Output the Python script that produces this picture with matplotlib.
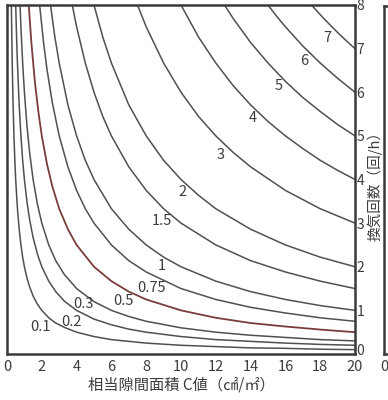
import numpy as np
import matplotlib
matplotlib.use("Agg")
from matplotlib import pyplot as plt
from matplotlib.transforms import ScaledTranslation

plt.rcParams['font.family'] = ['Noto Sans CJK JP', 'DejaVu Sans']

# curve labels (値) and points: C値 -> 換気回数
labels = ['0.1', '0.2', '0.3', '0.5', '0.75', '1', '1.5', '2', '3', '4', '5', '6', '7']

c_01 = [0.25, 0.3, 0.35, 0.4, 0.45, 0.5, 0.6, 0.7, 0.8, 0.9, 1.0, 1.15, 1.3, 1.5, 1.75, 2, 2.4, 2.8, 3.3, 4, 5, 6, 7, 8, 10, 12, 14, 16, 18, 20]
n_01 = [8.0, 6.67, 5.71, 5.0, 4.44, 4.0, 3.33, 2.86, 2.5, 2.22, 2.0, 1.74, 1.54, 1.33, 1.14, 1.0, 0.83, 0.71, 0.61, 0.5, 0.4, 0.33, 0.29, 0.25, 0.2, 0.17, 0.14, 0.13, 0.11, 0.1]
c_02 = [0.5, 0.55, 0.6, 0.7, 0.8, 0.9, 1.0, 1.15, 1.3, 1.5, 1.75, 2, 2.4, 2.8, 3.3, 4, 5, 6, 7, 8, 10, 12, 14, 16, 18, 20]
n_02 = [8.0, 7.27, 6.67, 5.71, 5.0, 4.44, 4.0, 3.48, 3.08, 2.67, 2.29, 2.0, 1.67, 1.43, 1.21, 1.0, 0.8, 0.67, 0.57, 0.5, 0.4, 0.33, 0.29, 0.25, 0.22, 0.2]
c_03 = [0.75, 0.8, 0.9, 1.0, 1.15, 1.3, 1.5, 1.75, 2, 2.4, 2.8, 3.3, 4, 5, 6, 7, 8, 10, 12, 14, 16, 18, 20]
n_03 = [8.0, 7.5, 6.67, 6.0, 5.22, 4.62, 4.0, 3.43, 3.0, 2.5, 2.14, 1.82, 1.5, 1.2, 1.0, 0.86, 0.75, 0.6, 0.5, 0.43, 0.38, 0.33, 0.3]
c_05 = [1.25, 1.4, 1.6, 1.8, 2, 2.3, 2.6, 3, 3.5, 4, 5, 6, 7, 8, 10, 12, 14, 16, 18, 20]
n_05 = [8.0, 7.14, 6.25, 5.56, 5.0, 4.35, 3.85, 3.33, 2.86, 2.5, 2.0, 1.67, 1.43, 1.25, 1.0, 0.83, 0.71, 0.63, 0.56, 0.5]
c_075 = [1.875, 2.1, 2.3, 2.6, 3, 3.5, 4, 4.5, 5, 6, 7, 8, 10, 12, 14, 16, 18, 20]
n_075 = [8.0, 7.14, 6.52, 5.77, 5.0, 4.29, 3.75, 3.33, 3.0, 2.5, 2.14, 1.88, 1.5, 1.25, 1.07, 0.94, 0.83, 0.75]
c_1 = [2.5, 2.75, 3, 3.5, 4, 4.5, 5, 6, 7, 8, 9, 10, 12, 14, 16, 18, 20]
n_1 = [8.0, 7.27, 6.67, 5.71, 5.0, 4.44, 4.0, 3.33, 2.86, 2.5, 2.22, 2.0, 1.67, 1.43, 1.25, 1.11, 1.0]
c_15 = [3.75, 4, 4.5, 5, 5.5, 6, 7, 8, 9, 10, 12, 14, 16, 18, 20]
n_15 = [8.0, 7.5, 6.67, 6.0, 5.45, 5.0, 4.29, 3.75, 3.33, 3.0, 2.5, 2.14, 1.88, 1.67, 1.5]
c_2 = [5, 5.5, 6, 7, 8, 9, 10, 11, 12, 14, 16, 18, 20]
n_2 = [8.0, 7.27, 6.67, 5.71, 5.0, 4.44, 4.0, 3.64, 3.33, 2.86, 2.5, 2.22, 2.0]
c_3 = [7.5, 8, 9, 10, 11, 12, 13, 14, 16, 18, 20]
n_3 = [8.0, 7.5, 6.67, 6.0, 5.45, 5.0, 4.62, 4.29, 3.75, 3.33, 3.0]
c_4 = [10, 11, 12, 13, 14, 15, 16, 17, 18, 19, 20]
n_4 = [8.0, 7.27, 6.67, 6.15, 5.71, 5.33, 5.0, 4.71, 4.44, 4.21, 4.0]
c_5 = [12.5, 13, 14, 15, 16, 17, 18, 19, 20]
n_5 = [8.0, 7.69, 7.14, 6.67, 6.25, 5.88, 5.56, 5.26, 5.0]
c_6 = [15, 15.5, 16, 17, 18, 19, 20]
n_6 = [8.0, 7.74, 7.5, 7.06, 6.67, 6.32, 6.0]
c_7 = [17.5, 18, 18.5, 19, 19.5, 20]
n_7 = [8.0, 7.78, 7.57, 7.37, 7.18, 7.0]

curves = [(c_01, n_01), (c_02, n_02), (c_03, n_03), (c_05, n_05), (c_075, n_075),
          (c_1, n_1), (c_15, n_15), (c_2, n_2), (c_3, n_3), (c_4, n_4),
          (c_5, n_5), (c_6, n_6), (c_7, n_7)]

# where each curve label sits (C, n)
label_c = [1.95, 3.7, 4.4, 6.7, 8.3, 8.9, 8.9, 10.1, 12.3, 14.1, 15.6, 17.1, 18.4]
label_n = [0.62, 0.73, 1.15, 1.22, 1.51, 2.02, 3.05, 3.72, 4.56, 5.4, 6.15, 6.72, 7.25]

xticks = list(range(0, 21, 2))
yticks = list(range(0, 9))

fig = plt.figure(figsize=(3.88, 4.0), dpi=100)
ax = fig.add_axes([7/388., 1 - 354/400., 348/388., 349/400.])

for (c, n), lab in zip(curves, labels):
    if lab == '0.5':
        ax.plot(c, n, color='#7a3d3d', lw=1.3)
    else:
        ax.plot(c, n, color='#505050', lw=1.1)

for lab, x, y in zip(labels, label_c, label_n):
    ax.text(x, y, lab, fontsize=10.5, color='#3c3c3c', ha='center', va='center')

ax.set_xlim(0, 20)
ax.set_ylim(0, 8)
ax.set_xticks(xticks)
ax.set_yticks(yticks)
ax.yaxis.tick_right()
ax.tick_params(length=0, labelsize=10.5, colors='#3c3c3c')
ax.tick_params(axis='y', pad=1, labelsize=10)
ax.tick_params(axis='x', pad=4)
for s in ax.spines.values():
    s.set_linewidth(1.8)
    s.set_color('#3a3a3a')

# lift the right-hand "0" a little off the "20" below it
zero_lab = ax.get_yticklabels()[0]
zero_lab.set_transform(zero_lab.get_transform() + ScaledTranslation(0, 3/72., fig.dpi_scale_trans))

ax.set_xlabel('相当隙間面積 C値（㎠/㎡）', fontsize=11, color='#3c3c3c', labelpad=2)
ax.text(1.056, 0.49, '換気回数（回/h）', transform=ax.transAxes, rotation=90,
        ha='center', va='center', fontsize=10.5, color='#3c3c3c')

# edge of the neighbouring chart
ax2 = fig.add_axes([384/388., 1 - 354/400., 0.2, 348/400.])
ax2.set_xlim(0, 10)
ax2.set_ylim(0, 8)
ax2.set_xticks([0])
ax2.set_yticks([])
ax2.tick_params(length=0, labelsize=10.5, colors='#3c3c3c', pad=4)
for s in ax2.spines.values():
    s.set_linewidth(1.8)
    s.set_color('#3a3a3a')

fig.savefig('out.png')
